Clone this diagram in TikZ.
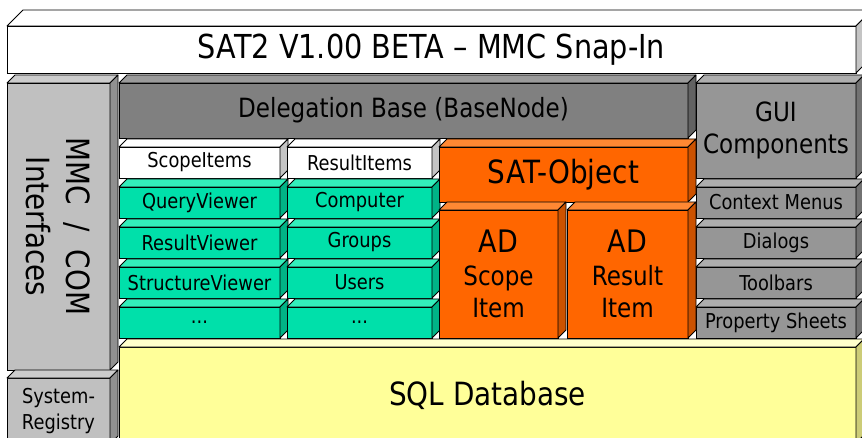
\documentclass[tikz,border=0pt]{standalone}
\usepackage{fontspec}
\setmainfont{DejaVu Sans}[FakeStretch=0.87]
\definecolor{whiteF}{HTML}{FFFFFF}\definecolor{whiteT}{HTML}{FFFFFF}\definecolor{whiteS}{HTML}{C4C4C4}
\definecolor{lgrayF}{HTML}{C0C0C0}\definecolor{lgrayT}{HTML}{CCCCCC}\definecolor{lgrayS}{HTML}{909090}
\definecolor{dgrayF}{HTML}{808080}\definecolor{dgrayT}{HTML}{9A9A9A}\definecolor{dgrayS}{HTML}{626262}
\definecolor{mgrayF}{HTML}{969696}\definecolor{mgrayT}{HTML}{AEAEAE}\definecolor{mgrayS}{HTML}{727272}
\definecolor{greenF}{HTML}{00E0AA}\definecolor{greenT}{HTML}{33EEBB}\definecolor{greenS}{HTML}{00B386}
\definecolor{orangeF}{HTML}{FF6600}\definecolor{orangeT}{HTML}{FF8833}\definecolor{orangeS}{HTML}{CC5200}
\definecolor{yellowF}{HTML}{FFFF99}\definecolor{yellowT}{HTML}{FFFFCC}\definecolor{yellowS}{HTML}{CCCC77}
\tikzset{
  cubefront/.style={draw=black, line width=0.8pt, anchor=north west, inner sep=0pt, outer sep=0pt, align=center, text=black},
  cubeedge/.style={draw=black, line width=0.8pt, line join=round},
  fsmall/.style={font=\fontsize{20.5}{26}\selectfont},
  fmid/.style={font=\fontsize{26.5}{32.5}\selectfont},
  fbig/.style={font=\fontsize{32}{40}\selectfont},
  ftitle/.style={font=\fontsize{33}{38}\selectfont},
}
\newcommand\cube[8]{%
  \node[cubefront, fill=#6F, minimum width=#3pt, minimum height=#4pt, #7] (#1) at #2 {#8};
  \filldraw[cubeedge, fill=#6T] (#1.north west) -- ++(#5,-#5) -- ([shift={(#5,-#5)}]#1.north east) -- (#1.north east) -- cycle;
  \filldraw[cubeedge, fill=#6S] (#1.north east) -- ++(#5,-#5) -- ([shift={(#5,-#5)}]#1.south east) -- (#1.south east) -- cycle;
}
\begin{document}
\begin{tikzpicture}[x=1pt,y=-1pt]
\useasboundingbox[fill=white] (0,0) rectangle (862,438);
\clip (0,0) rectangle (862,438);
% title
\cube{title}{(7,26)}{849}{47}{16}{white}{ftitle}{SAT2 V1.00 BETA -- MMC Snap-In}
% left column
\cube{mmc}{(7,83)}{103}{287}{8}{lgray}{}{}
\node[rotate=-90, fbig, align=center, text=black, inner sep=0pt] (mmctext) at (mmc.center) {MMC \ / \ COM\\Interfaces};
\cube{sysreg}{(7,378)}{103}{66}{8}{lgray}{fsmall}{System-\\Registry}
% top band
\cube{deleg}{(119,83)}{569}{55}{8}{dgray}{fmid}{Delegation Base (BaseNode)}
\cube{gui}{(696,83)}{160}{95}{8}{mgray}{fmid}{GUI\\Components}
% right column
\cube{ctx}{(696,187)}{160}{31}{8}{mgray}{fsmall}{Context Menus}
\cube{dlg}{(696,227)}{160}{31}{8}{mgray}{fsmall}{Dialogs}
\cube{tlb}{(696,267)}{160}{31}{8}{mgray}{fsmall}{Toolbars}
\cube{prop}{(696,307)}{160}{31}{8}{mgray}{fsmall}{Property Sheets}
% column 1
\cube{scope}{(119,147)}{161}{31}{8}{white}{fsmall}{ScopeItems}
\cube{qv}{(119,187)}{161}{31}{8}{green}{fsmall}{QueryViewer}
\cube{rv}{(119,227)}{161}{31}{8}{green}{fsmall}{ResultViewer}
\cube{sv}{(119,267)}{161}{31}{8}{green}{fsmall}{StructureViewer}
\cube{d1}{(119,307)}{161}{31}{8}{green}{fsmall}{...}
% column 2
\cube{result}{(287,147)}{145}{31}{8}{white}{fsmall}{ResultItems}
\cube{comp}{(287,187)}{145}{31}{8}{green}{fsmall}{Computer}
\cube{grp}{(287,227)}{145}{31}{8}{green}{fsmall}{Groups}
\cube{usr}{(287,267)}{145}{31}{8}{green}{fsmall}{Users}
\cube{d2}{(287,307)}{145}{31}{8}{green}{fsmall}{...}
% SAT object
\cube{sat}{(439,147)}{249}{55}{8}{orange}{fbig}{SAT-Object}
\cube{ads}{(439,210)}{119}{128}{8}{orange}{fmid}{{\fontsize{31}{35}\selectfont AD}\\Scope\\Item}
\cube{adr}{(567,210)}{121}{128}{8}{orange}{fmid}{{\fontsize{31}{35}\selectfont AD}\\Result\\Item}
% database
\cube{sql}{(119,347)}{737}{96}{8}{yellow}{fbig}{SQL Database}
\end{tikzpicture}
\end{document}
